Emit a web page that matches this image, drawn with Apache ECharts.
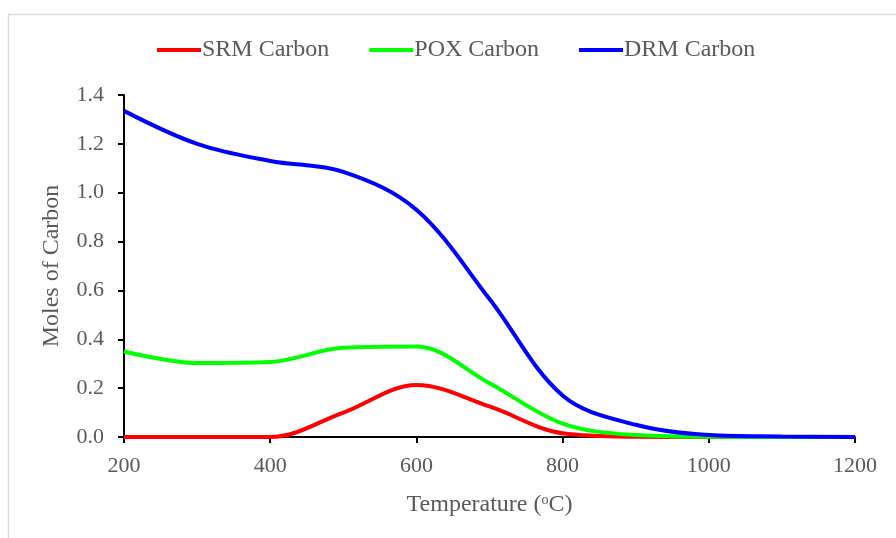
<!DOCTYPE html>
<html>
<head>
<meta charset="utf-8">
<script src="https://cdn.jsdelivr.net/npm/echarts@6/dist/echarts.min.js"></script>
<style>html,body{margin:0;padding:0;background:#fff}#c{width:896px;height:538px}</style>
</head>
<body>
<div id="c"></div>
<script>
const temps = [200, 300, 400, 500, 600, 700, 800, 900, 1000, 1100, 1200];
const srm = [0, 0, 0, 0.10, 0.213, 0.125, 0.015, 0.001, 0, 0, 0];
const pox = [0.35, 0.303, 0.307, 0.365, 0.37, 0.22, 0.055, 0.008, 0.001, 0, 0];
const drm = [1.335, 1.20, 1.13, 1.085, 0.93, 0.565, 0.17, 0.05, 0.008, 0.002, 0];
const seriesNames = ['SRM Carbon', 'POX Carbon', 'DRM Carbon'];
const colors = ['#ff0000', '#00ff00', '#0000ff'];

const font = 'Liberation Serif';
const txt = '#595959';
const chart = echarts.init(document.getElementById('c'));
const mk = (vals) => temps.map((t, i) => [t, vals[i]]);
const all = [srm, pox, drm];
chart.setOption({
  backgroundColor: '#fff',
  animation: false,
  graphic: [{
    type: 'rect', shape: { x: 8.5, y: 14.5, width: 900, height: 600 },
    style: { fill: 'none', stroke: '#d9d9d9', lineWidth: 1.5 }, silent: true
  }],
  legend: {
    top: 33, left: 152,
    itemWidth: 44, itemHeight: 4, itemGap: 40,
    icon: 'rect',
    textStyle: { fontFamily: font, fontSize: 24, color: txt, padding: [0, 0, 0, -4] },
    data: seriesNames
  },
  grid: { left: 124, right: 41, top: 95, bottom: 101 },
  xAxis: {
    type: 'value', min: 200, max: 1200, interval: 200,
    name: 'Temperature (ᵒC)', nameLocation: 'middle', nameGap: 56,
    nameTextStyle: { fontFamily: font, fontSize: 24, color: txt },
    axisLine: { lineStyle: { color: '#000', width: 2 } },
    axisTick: { show: true, length: 6, lineStyle: { color: '#000', width: 2 } },
    axisLabel: { fontFamily: font, fontSize: 22, color: txt, margin: 18, formatter: v => String(v) },
    splitLine: { show: false }
  },
  yAxis: {
    type: 'value', min: 0, max: 1.4, interval: 0.2,
    name: 'Moles of Carbon', nameLocation: 'middle', nameGap: 60,
    nameTextStyle: { fontFamily: font, fontSize: 24, color: txt },
    axisLine: { show: true, lineStyle: { color: '#000', width: 2 } },
    axisTick: { show: true, length: 6, lineStyle: { color: '#000', width: 2 } },
    axisLabel: { fontFamily: font, fontSize: 22, color: txt, margin: 20, formatter: v => v.toFixed(1) },
    splitLine: { show: false }
  },
  series: seriesNames.map((n, i) => ({
    name: n, type: 'line', data: mk(all[i]), smooth: 0.35, showSymbol: false,
    lineStyle: { color: colors[i], width: 4 }, itemStyle: { color: colors[i] }, z: 3 + i
  }))
});
</script>
</body>
</html>
